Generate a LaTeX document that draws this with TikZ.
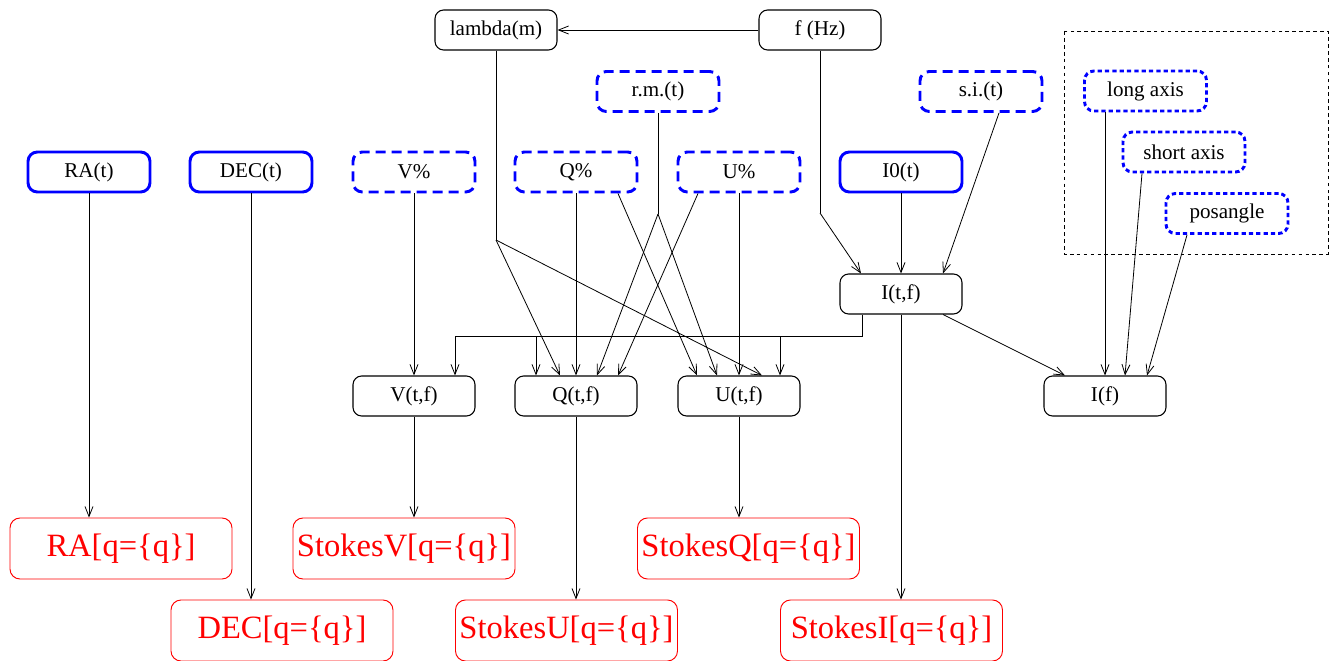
\documentclass[tikz,border=0pt]{standalone}
\usepackage{fontspec}
\setmainfont{Liberation Serif}
\usetikzlibrary{arrows.meta}
\begin{document}
\begin{tikzpicture}[x=0.75pt,y=-0.75pt,
  boxbase/.style={rounded corners=6.5pt, minimum width=91.5pt, minimum height=30pt,
    inner sep=0pt, font=\fontsize{15.8}{18}\selectfont},
  boxcalc/.style={boxbase, draw=black, line width=0.8pt},
  boxsrc/.style={boxbase, draw=blue, line width=2.2pt, rounded corners=7pt},
  boxopt/.style={boxsrc, dash pattern=on 7.5pt off 4.5pt},
  boxgeom/.style={boxsrc, dash pattern=on 3.2pt off 2.3pt},
  boxprod/.style={draw=red, text=red, line width=0.7pt, rounded corners=7.5pt,
    minimum width=166.5pt, minimum height=45.75pt, inner sep=0pt,
    font=\fontsize{24.4}{28}\selectfont},
  link/.style={draw=black, line width=0.6pt},
  arr/.style={link, -{Straight Barb[length=7.5pt,width=6pt]}},
  groupframe/.style={draw=black, line width=0.6pt, dash pattern=on 2.8pt off 2.4pt},
]
\useasboundingbox (0,0) rectangle (1334,660);

% frequency inputs
\node[boxcalc] (lam) at (496,30) {lambda(m)};
\node[boxcalc] (fhz) at (820,30) {f (Hz)};

% optional time series
\node[boxopt] (rm) at (658,91.5) {r.m.(t)};
\node[boxopt] (si) at (981,91.5) {s.i.(t)};

% source shape group
\draw[groupframe] (1064,31) rectangle (1328,254);
\node[boxgeom] (lax) at (1145.5,91) {long axis};
\node[boxgeom] (sax) at (1184,152) {short axis};
\node[boxgeom] (pa) at (1227,213.5) {posangle};

% time series inputs
\node[boxsrc] (ra) at (89,172) {RA(t)};
\node[boxsrc] (dec) at (251,172) {DEC(t)};
\node[boxopt] (vp) at (414,172) {V\%};
\node[boxopt] (qp) at (576,172) {Q\%};
\node[boxopt] (up) at (739,172) {U\%};
\node[boxsrc] (i0) at (901,172) {I0(t)};

% derived quantities
\node[boxcalc] (itf) at (901,294) {I(t,f)};
\node[boxcalc] (vtf) at (414,396) {V(t,f)};
\node[boxcalc] (qtf) at (576,396) {Q(t,f)};
\node[boxcalc] (utf) at (739,396) {U(t,f)};
\node[boxcalc] (ifreq) at (1105,396) {I(f)};

% outputs
\node[boxprod] (raq) at (121,548.5) {RA[q=\{q\}]};
\node[boxprod] (svq) at (404,548.5) {StokesV[q=\{q\}]};
\node[boxprod] (sqq) at (748.5,548.5) {StokesQ[q=\{q\}]};
\node[boxprod] (decq) at (282,630.5) {DEC[q=\{q\}]};
\node[boxprod] (suq) at (566.5,630.5) {StokesU[q=\{q\}]};
\node[boxprod] (siq) at (891.5,630.5) {StokesI[q=\{q\}]};

% junction points
\coordinate (lsplit) at (496,240);
\coordinate (rsplit) at (658,214);
\coordinate (fbend) at (820,213);
\coordinate (bus) at (0,336);

% frequency to wavelength
\draw[arr] (fhz) -- (lam);

% wavelength feeds Q and U
\draw[link] (lam.south) -- (lsplit);
\draw[arr] (lsplit) -- ([xshift=-12pt]qtf.north);
\draw[arr] (lsplit) -- ([xshift=17.25pt]utf.north);

% rotation measure feeds Q and U
\draw[link] (rm.south) -- (rsplit);
\draw[arr] (rsplit) -- ([xshift=15.75pt]qtf.north);
\draw[arr] (rsplit) -- ([xshift=-16.5pt]utf.north);

% polarisation fractions
\draw[arr] (vp) -- (vtf);
\draw[arr] (qp) -- (qtf);
\draw[arr] (up) -- (utf);
\draw[arr] ([xshift=31.5pt]qp.south) -- ([xshift=-31.5pt]utf.north);
\draw[arr] ([xshift=-30.75pt]up.south) -- ([xshift=31.5pt]qtf.north);

% total intensity
\draw[arr] (i0) -- (itf);
\draw[link] (fhz.south) -- (fbend);
\draw[arr] (fbend) -- ([xshift=-30pt]itf.north);
\draw[arr] ([xshift=13.5pt]si.south) -- ([xshift=31.5pt]itf.north);

% intensity distributed to V, Q, U
\draw[arr] ([xshift=-29.25pt]itf.south) |- ([xshift=30.75pt]vtf.north |- bus)
  -- ([xshift=30.75pt]vtf.north);
\draw[arr] ([xshift=-30pt]qtf.north |- bus) -- ([xshift=-30pt]qtf.north);
\draw[arr] ([xshift=30.75pt]utf.north |- bus) -- ([xshift=30.75pt]utf.north);

% spectrum
\draw[arr] ([xshift=31.5pt]itf.south) -- ([xshift=-30pt]ifreq.north);
\draw[arr] (lax.south -| ifreq.north) -- (ifreq.north);
\draw[arr] ([xshift=-31.5pt]sax.south) -- ([xshift=15pt]ifreq.north);
\draw[arr] ([xshift=-30pt]pa.south) -- ([xshift=31.5pt]ifreq.north);

% outputs
\draw[arr] (ra.south) -- (ra.south |- raq.north);
\draw[arr] (dec.south) -- (dec.south |- decq.north);
\draw[arr] (vtf.south) -- (vtf.south |- svq.north);
\draw[arr] (qtf.south) -- (qtf.south |- suq.north);
\draw[arr] (utf.south) -- (utf.south |- sqq.north);
\draw[arr] (itf.south) -- (itf.south |- siq.north);
\end{tikzpicture}
\end{document}
